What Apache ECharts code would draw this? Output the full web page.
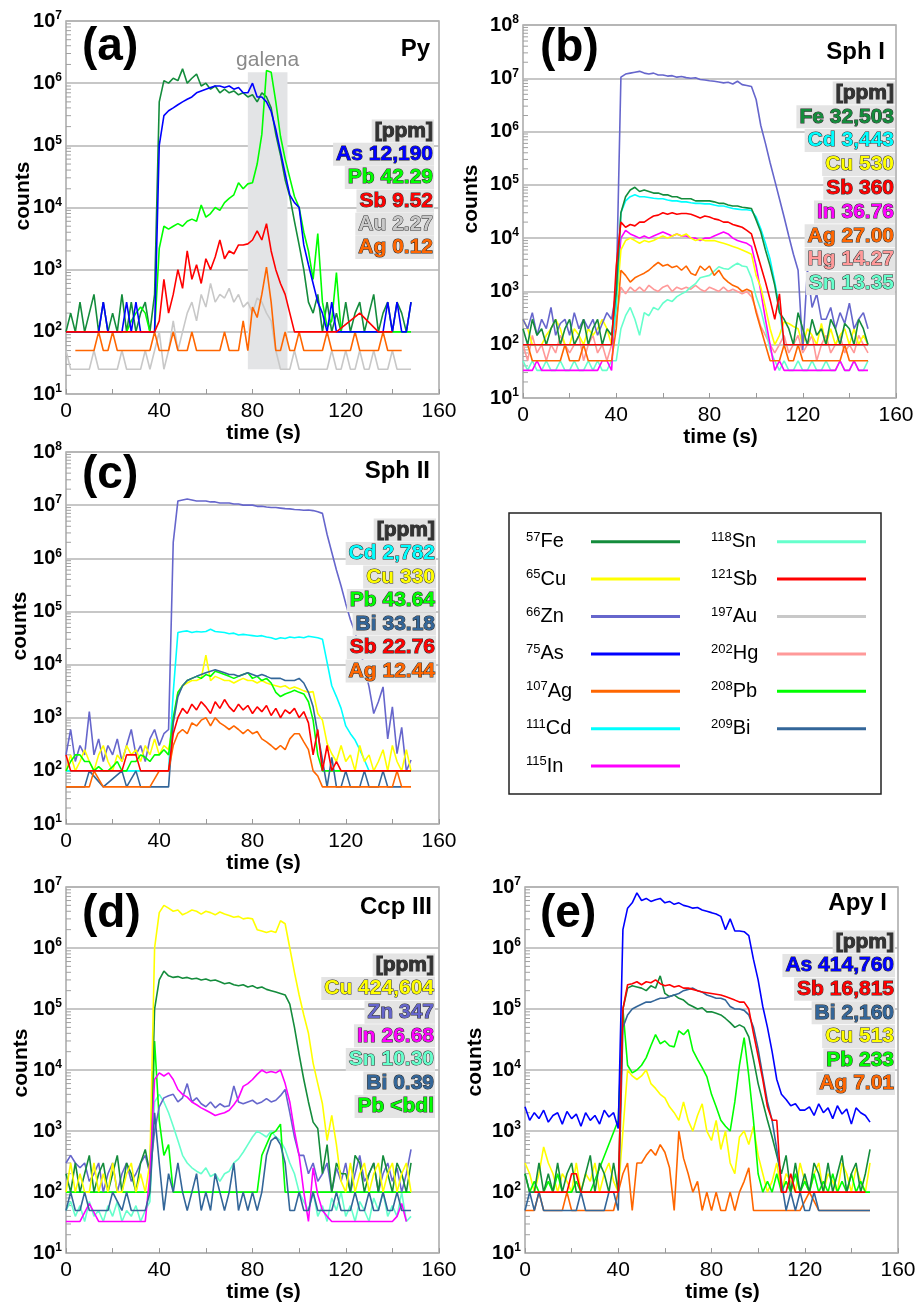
<!DOCTYPE html>
<html><head><meta charset="utf-8">
<script src="https://cdn.jsdelivr.net/npm/echarts@6/dist/echarts.min.js"></script>
<style>html,body{margin:0;padding:0;background:#fff}#c{width:920px;height:1304px}</style>
</head><body><div id="c"></div>
<script>
// ---------- shared time axis (s) ----------
const time = [0,2,4,6,8,10,12,14,16,18,20,22,24,26,28,30,32,34,36,38,40,42,44,46,48,50,52,54,56,58,60,62,64,66,68,70,72,74,76,78,80,82,84,86,88,90,92,94,96,98,100,102,104,106,108,110,112,114,116,118,120,122,124,126,128,130,132,134,136,138,140,142,144,146,148];
const xTickLabels = [0,40,80,120,160];
const minorSteps = [2,3,4,5,6,7,8,9];

// ---------- (a) Py ----------
const aFe = [100,200,100,300,100, 200,400,100,300,100, 200,100,400,100,300, 100,200,300,100,400, 5e5,1.1e6,1e6,1.2e6,1.1e6, 1.7e6,1e6,1.2e6,1.4e6,9e5, 1e6,8e5,9e5,7e5,8e5, 7e5,7.5e5,6.5e5,7e5,6e5, 6.5e5,5e5,7e5,6e5,4e5, 1.5e5,7e4,2.8e4,1.5e4,6e3, 2.5e3,1e3,300,200,400, 100,300,100,200,100, 300,100,200,300,100, 200,400,100,200,300, 100,300,200,100,300];
const aAs = [100,100,100,100,100, 100,100,100,300,100, 100,100,100,300,100, 300,100,100,100,100, 1e5,3e5,3.6e5,4e5,4.5e5, 5e5,5.5e5,6e5,7e5,7.5e5, 8e5,8.5e5,9e5,9e5,8.5e5, 9e5,8e5,8.5e5,7e5,7e5, 1e6,6e5,6e5,5e5,3.5e5, 1.8e5,8e4,3.5e4,1.6e4,1.2e4, 1e4,2.5e3,1.2e3,600,300, 200,100,300,100,100, 100,100,100,100,100, 100,100,100,100,300, 100,300,100,100,300];
const aPb = [100,100,100,100,100, 100,100,100,100,100, 100,100,100,100,150, 200,250,200,100,100, 2.2e3,5e3,4.5e3,5e3,5.5e3, 5e3,6e3,6.5e3,6e3,1.1e4, 7e3,8e3,1e4,9e3,1.2e4, 1.4e4,1.6e4,2.5e4,2e4,2.4e4, 2.5e4,5e4,1.5e5,1.6e6,1.5e6, 5e5,1.4e5,6e4,3e4,1.5e4, 1e4,4e3,2e3,700,3.8e3, 300,120,150,900,100, 100,100,100,100,100, 100,100,100,100,100, 100,100,100,100,100];
const aSb = [100,100,100,100,100, 100,100,100,100,100, 100,100,100,100,100, 100,100,100,100,100, 150,700,200,400,1e3, 500,2e3,700,1.2e3,600, 1.5e3,1e3,1.6e3,3e3,1.5e3, 2e3,1.8e3,2.5e3,2.5e3,2.6e3, 3e3,4.2e3,3e3,5.5e3,2e3, 1e3,600,400,200,100, 100,100,100,100,100, 100,100,100,100,null, null,null,null,200,null, null,null,100,100,100, 100,null,null,null,null];
const aAu = [50,25,25,25,25, 25,50,25,25,25, 25,25,50,25,25, 25,25,50,25,50, 100,25,50,150,50, 100,200,300,150,400, 250,600,300,400,350, 500,300,400,250,300, 200,350,300,200,150, 50,25,25,25,50, 25,25,25,25,25, 25,25,50,25,25, 50,25,25,50,25, 25,50,25,25,25, 50,25,25,25,25];
const aAg = [null,null,50,50,50, 50,50,100,50,50, 100,50,50,50,50, 50,50,50,50,100, 50,50,50,100,50, 50,50,100,50,50, 50,50,50,50,100, 50,50,50,150,50, 250,170,400,1.1e3,300, 50,50,100,50,50, 100,50,50,50,50, 50,100,50,50,50, 50,50,100,50,50, 50,50,50,100,50, 50,50,50,null,null];
const galenaTime = [78, 95];
const galenaCounts = [25, 1.5e6];

// ---------- (b) Sph I ----------
const bZn = [300,200,400,150,300, 200,500,150,250,300, 150,400,200,300,200, 300,150,250,400,300, 1e3,1.05e7,1.2e7,1.25e7,1.3e7, 1.35e7,1.25e7,1.2e7,1.25e7,1.15e7, 1.15e7,1.1e7,1.12e7,1.05e7,1.08e7, 1.03e7,1e7,1.02e7,9.5e6,9.3e6, 9e6,8.8e6,8.5e6,8.2e6,8.4e6, 7.8e6,8.8e6,7.6e6,7.3e6,7e6, 4e6,1.3e6,6e5,2.6e5,1.2e5, 5.5e4,2.5e4,1.1e4,5e3,2.5e3, 80,2.6e3,500,900,300, 300,500,200,400,250, 600,200,300,400,200];
const bFe = [200,100,300,150,200, 100,200,300,100,200, 300,100,150,300,100, 200,300,100,200,150, 1e3,3e4,6e4,8e4,9e4, 7.5e4,8e4,7.5e4,7e4,7e4, 6.5e4,6.5e4,6e4,6e4,5.5e4, 5.5e4,5.5e4,5e4,5e4,5e4, 5e4,4.8e4,4.5e4,4.5e4,4.2e4, 4e4,4e4,3.8e4,3.7e4,3.6e4, 2.2e4,1.3e4,6e3,3e3,1.3e3, 400,300,200,100,400, 200,100,300,150,200, 100,300,200,100,250, 200,100,300,200,100];
const bCd = [100,100,100,100,100, 100,100,100,100,100, 100,100,100,100,100, 100,100,100,100,100, 500,3e4,5e4,6e4,6.5e4, 6e4,6e4,5.8e4,5.6e4,5.5e4, 5.5e4,5.2e4,5e4,5e4,4.8e4, 4.8e4,4.6e4,4.5e4,4.5e4,4.4e4, 4.4e4,4.2e4,4e4,4e4,3.8e4, 3.6e4,3.5e4,3.4e4,3.4e4,3.3e4, 2.5e4,1.5e4,8e3,4e3,1.5e3, 500,100,100,100,100, 100,100,100,100,100, 100,100,100,100,100, 100,100,100,100,100];
const bSb = [100,100,100,100,100, 100,100,100,100,100, 100,100,100,100,100, 100,100,100,100,100, 3e3,2e4,1.6e4,1.8e4,1.7e4, 2e4,2e4,2.3e4,2.6e4,2.7e4, 3e4,2.8e4,3e4,2.8e4,2.9e4, 2.9e4,2.8e4,2.6e4,2.4e4,2.6e4, 2.5e4,2.3e4,2.2e4,2e4,2e4, 1.8e4,1.7e4,1.6e4,1.4e4,1.2e4, 6e3,3e3,1.5e3,700,300, 900,100,100,100,100, 100,100,100,100,100, 100,100,100,100,100, 100,100,100,100,100];
const bIn = [33,33,33,50,33, 33,33,33,33,33, 33,33,33,33,33, 33,33,50,50,33, 1e3,1e4,1.4e4,1.2e4,1.1e4, 1e4,1.1e4,1e4,1.1e4,1.2e4, 1.3e4,1.2e4,1.1e4,1.2e4,1.1e4, 1.1e4,1e4,1e4,9e3,1e4, 1e4,1.1e4,1.2e4,1.3e4,1.2e4, 1e4,9e3,8.5e3,8e3,7e3, 3e3,1e3,300,100,33, 50,33,33,33,33, 33,33,33,33,33, 33,33,33,50,33, 33,50,33,33,33];
const bCu = [300,200,100,100,100, 150,200,300,200,100, 100,200,150,100,200, 150,200,300,200,100, 500,6e3,9e3,1e4,9e3, 8e3,9e3,8.5e3,9e3,1e4, 1.1e4,1e4,1.1e4,1.2e4,1.1e4, 1.2e4,1e4,9e3,9.5e3,9e3, 9e3,9e3,8.5e3,8e3,7.5e3, 7e3,6.5e3,6e3,5.5e3,5e3, 2e3,1.2e3,500,200,100, 150,270,250,220,200, 100,200,150,100,250, 100,200,100,150,200, 100,200,100,150,100];
const bAg = [100,100,50,50,50, 50,50,50,50,100, 50,50,50,100,50, 50,50,50,50,50, 200,2.5e3,2e3,1.5e3,1.8e3, 2e3,2.2e3,2.5e3,3e3,3.5e3, 3e3,3.2e3,2.8e3,3e3,2.5e3, 3e3,2.2e3,2e3,3e3,2.5e3, 3e3,2e3,2.5e3,1.8e3,1.5e3, 1.3e3,1.2e3,1e3,1.1e3,1e3, 400,200,100,50,50, 50,100,50,50,100, 50,50,50,50,50, 50,50,50,50,100, 50,50,50,50,50];
const bHg = [100,50,150,70,100, 50,100,70,150,100, 70,100,150,50,100, 150,70,100,50,100, 300,1.2e3,900,1.2e3,1e3, 1.2e3,1e3,1.3e3,1.1e3,1e3, 1.2e3,1.3e3,1e3,1.2e3,1.1e3, 1.2e3,1.1e3,1.3e3,1.1e3,1e3, 1.2e3,1.1e3,1e3,1.2e3,1e3, 1.1e3,1e3,900,1e3,800, 450,220,150,100,70, 100,150,70,100,150, 70,100,150,50,100, 150,70,100,150,70, 100,70,150,100,70];
const bSn = [50,33,50,33,33, 50,33,33,50,33, 33,50,33,33,50, 33,50,33,33,50, 50,200,350,500,300, 150,400,350,500,450, 600,700,650,800,900, 1e3,1.2e3,1.4e3,1.8e3,1.9e3, 2e3,2.4e3,2.9e3,2.7e3,2.6e3, 3e3,3.4e3,3e3,2.9e3,1.8e3, 800,450,200,80,50, 33,50,33,33,50, 33,33,50,33,33, 50,33,33,50,33, 33,50,33,33,50];

// ---------- (c) Sph II ----------
const cZn = [200,600,150,300,200, 1.3e3,200,400,150,300, 200,400,150,300,600, 200,300,150,400,600, 300,500,600,2e6,1.2e7, 1.25e7,1.3e7,1.25e7,1.2e7,1.2e7, 1.2e7,1.15e7,1.15e7,1.1e7,1.1e7, 1.1e7,1.05e7,1.05e7,1e7,1e7, 1e7,9.5e6,9.5e6,9.2e6,9e6, 9e6,8.8e6,8.6e6,8.5e6,8.3e6, 8.2e6,8e6,8.1e6,7.9e6,7.5e6, 7e6,2.8e6,1.3e6,6e5,3e5, 1.4e5,7e4,4e4,2e4,9e3, 3.8e3,1.2e3,2e3,3.8e3,400, 1.6e3,210,660,100,160];
const cCd = [100,100,100,100,100, 100,100,100,100,100, 100,100,100,100,100, 100,100,100,100,100, 100,100,100,3e3,4e4, 4.2e4,4.3e4,4e4,4.2e4,4.1e4, 4.2e4,4.6e4,4.2e4,4.1e4,4e4, 3.8e4,3.9e4,3.6e4,3.7e4,3.6e4, 3.5e4,3.4e4,3.5e4,3.3e4,3.2e4, 3e4,3.2e4,3.1e4,3.3e4,3.2e4, 3.3e4,3.2e4,3.4e4,3.3e4,3.2e4, 3e4,1.1e4,4e3,2.5e3,1.5e3, 700,500,380,250,160, 100,100,100,100,100, 100,100,100,100,100];
const cPb = [100,150,200,200,150, 150,100,120,100,100, 120,150,100,100,150, 150,200,180,150,200, 200,250,200,1e3,3e3, 4e3,5e3,5.5e3,6e3,5.5e3, 6.5e3,6e3,7.5e3,7e3,6.5e3, 6e3,5.5e3,6e3,6.5e3,7e3, 5.5e3,6e3,5e3,5.5e3,4.5e3, 3e3,2.5e3,2.8e3,3e3,3.3e3, 3e3,2.8e3,2e3,900,200, 100,100,100,100,100, 100,100,100,100,100, 100,100,100,100,100, 100,100,100,100,100];
const cBi = [50,50,50,50,50, 100,null,null,50,null, null,null,100,50,null, 100,50,50,50,50, 50,50,50,800,2.5e3, 4e3,5e3,5.5e3,6e3,6.5e3, 7e3,7.5e3,8e3,7.5e3,7e3, 6.5e3,6.5e3,6e3,6.5e3,7e3, 6.5e3,6e3,6.5e3,6e3,5.5e3, 5.5e3,5.5e3,5e3,5e3,5e3, 5.5e3,4.5e3,3e3,1.6e3,500, 160,50,180,50,50, 100,50,50,50,100, 50,50,50,100,50, 50,50,50,null,null];
const cCu = [100,200,100,150,250, 150,100,200,300,150, 100,200,150,300,200, 250,150,300,200,400, 200,300,250,800,3e3, 4e3,4.5e3,5e3,5e3,5.5e3, 1.5e4,5e3,6e3,5.5e3,5e3, 5e3,4.5e3,5e3,5.5e3,5e3, 5e3,4.5e3,5e3,4.5e3,4.2e3, 4e3,3.8e3,4e3,3.5e3,3.8e3, 3.5e3,3.2e3,3e3,3.1e3,1.2e3, 900,330,210,150,300, 150,200,100,300,150, 200,100,150,250,100, 300,150,100,250,100];
const cSb = [200,100,100,100,100, 100,100,100,100,100, 100,100,100,200,200, 200,100,100,100,100, 100,100,100,500,1e3, 1.5e3,1.2e3,1.8e3,1.4e3,2e3, 1.6e3,1.2e3,2e3,1.5e3,2.2e3, 1.6e3,1.3e3,1.8e3,1.4e3,1.7e3, 1.2e3,1.6e3,1.3e3,1.7e3,1.1e3, 1.5e3,1e3,1.4e3,1.2e3,1.5e3, 1e3,1.3e3,800,200,600, 100,300,100,150,100, 100,100,100,100,100, 100,100,100,100,100, 100,100,100,100,100];
const cAg = [50,50,50,50,50, 50,100,null,50,50, 50,50,50,50,50, 50,50,50,50,null, 100,100,100,300,500, 600,500,800,700,900, 1e3,700,1e3,800,700, 600,700,600,500,600, 500,550,400,350,300, 250,300,250,400,500, 500,350,250,100,80, 50,50,50,50,50, 50,50,50,50,50, 50,50,50,50,50, 50,100,50,50,50];

// ---------- (d) Ccp III ----------
const dCu = [100,300,100,200,100, 100,300,100,200,100, 300,100,100,200,300, 100,200,100,300,1e6, 3.8e6,5e6,4.5e6,4e6,4.2e6, 3.5e6,3.8e6,4.2e6,4e6,3.6e6, 4e6,3.8e6,3.5e6,3.9e6,3.6e6, 3.4e6,3.2e6,3.3e6,3e6,3.1e6, 3e6,2e6,1.9e6,1.8e6,1.9e6, 1.8e6,2.8e6,2.5e6,1e6,4e5, 1.7e5,8e4,4e4,1.3e4,6e3, 2.8e3,700,1.8e3,600,150, 100,300,100,200,300, 100,200,300,100,200, 300,100,200,300,100];
const dFe = [200,100,300,100,200, 400,100,200,300,100, 200,400,100,300,200, 100,300,500,200,1e5, 3e5,4.2e5,3.5e5,3.3e5,3.4e5, 3.2e5,3.3e5,3.1e5,3.2e5,3e5, 3.1e5,2.9e5,3e5,2.8e5,2.6e5, 2.7e5,2.5e5,2.4e5,2.5e5,2.3e5, 2.4e5,2.2e5,2.3e5,2.1e5,2e5, 1.9e5,1.8e5,1.7e5,1.2e5,5e4, 1.8e4,7e3,3e3,1.4e3,1.1e3, 200,600,100,300,200, 200,100,400,300,100, 200,300,100,400,200, 100,300,200,100,300];
const dZn = [300,400,300,250,300, 150,200,300,100,200, 300,100,200,300,150, 200,300,400,200,1e3, 2.5e3,3.5e3,3.8e3,4e3,3e3, 3.5e3,6e3,3e3,3.5e3,2.8e3, 2.5e3,3e3,2.4e3,2.8e3,2.5e3, 2.6e3,5.5e3,3e3,2.8e3,3e3, 3.2e3,2.8e3,3e3,3.4e3,3e3, 3.2e3,3.8e3,4.8e3,2e3,800, 400,400,200,300,150, 200,300,100,250,150, 300,100,200,400,150, 200,300,100,200,300, 150,250,100,200,500];
const dIn = [33,33,33,33,null, 65,null,33,33,33, 33,33,33,33,33, 33,33,33,200,7e3, 9e3,8e3,9e3,7e3,4.8e3, 4e3,3.6e3,3e3,2.7e3,2.4e3, 2.2e3,2e3,1.8e3,1.9e3,2e3, 2.2e3,2.7e3,3.5e3,5.4e3,6e3, 7e3,8.5e3,1e4,9e3,9.5e3, 9e3,1e4,6e3,3e3,1e3, 400,100,33,250,90, 50,40,33,33,33, 33,33,33,33,33, 33,33,33,33,33, 33,40,65,33,null];
const dSn = [50,70,40,60,33, 70,40,50,33,60, 40,70,33,50,40, 60,33,50,70,3e3, 4e3,3e3,2e3,1.2e3,700, 400,300,250,220,200, 250,180,200,150,200, 220,300,350,450,600, 800,1e3,900,800,1e3, 800,700,500,300,200, 100,70,50,100,40, 60,33,80,50,100, 40,60,33,70,50, 33,80,50,100,40, 60,40,100,33,40];
const dBi = [50,100,50,50,100, 50,50,50,50,50, 100,null,50,100,50, 50,50,50,100,2e3, 300,50,200,100,300, 100,50,100,200,50, 100,50,200,100,50, 100,300,50,100,50, 100,50,100,400,700, 800,600,300,50,50, 100,50,50,100,50, 50,50,50,100,50, 50,50,100,50,50, 100,50,50,100,50, 50,100,50,50,50];
const dPb = [100,100,100,100,100, 100,100,100,100,100, 100,100,100,100,100, 100,100,100,100,3e4, 1.5e3,400,600,100,100, 100,100,100,100,100, 100,100,100,100,100, 100,100,100,100,100, 100,100,400,600,900, 1e3,1.3e3,100,100,100, 100,100,100,100,100, 100,100,100,100,100, 100,100,100,100,100, 100,100,100,100,100, 100,100,100,100,100];

// ---------- (e) Apy I ----------
const eAs = [2.5e3,1.5e3,2e3,1.6e3,2.2e3, 1.4e3,1.8e3,2e3,1.3e3,2.1e3, 1.6e3,1.9e3,1.2e3,2e3,1.5e3, 1.8e3,1.3e3,2.2e3,1.7e3,2e3, 1.1e3,2e6,4.5e6,5.5e6,8e6, 6e6,6.5e6,5.8e6,6.2e6,6.5e6, 5.5e6,5.8e6,5.2e6,5.5e6,5e6, 4.8e6,4.5e6,4.6e6,4.2e6,4e6, 3.8e6,3.6e6,3.3e6,2e6,3e6, 1.9e6,1.9e6,1.85e6,1.6e6,6.5e5, 3e5,1.1e5,5e4,2e4,7e3, 4e3,3.3e3,2.6e3,2.8e3,2.2e3, 2.2e3,2.5e3,1.8e3,2.8e3,2e3, 2.4e3,1.6e3,2.6e3,1.9e3,2.3e3, 1.3e3,2.4e3,2e3,1.8e3,1.4e3];
const eSb = [null,null,100,100,100, 100,100,100,100,100, 200,200,100,100,100, 100,100,100,100,100, 100,1e5,2.5e5,2.6e5,2.8e5, 2.5e5,2.8e5,2.7e5,3e5,2.6e5, 2.4e5,2.5e5,2.3e5,2.4e5,2.2e5, 2.2e5,2.1e5,2e5,1.9e5,1.85e5, 1.8e5,1.75e5,1.7e5,1.6e5,1.5e5, 1.4e5,1.3e5,1.3e5,1e5,4e4, 1.7e4,7e3,2.5e3,1.5e3,1.5e3, 100,100,200,100,100, 100,100,100,100,100, 100,100,100,100,100, 100,100,100,100,null];
const eBi = [50,100,50,100,50, 50,50,50,50,50, 50,50,100,50,50, 50,50,50,100,100, 50,5e4,8e4,1e5,1.1e5, 1.2e5,1.3e5,1.3e5,1.4e5,1.5e5, 1.5e5,1.6e5,1.7e5,1.8e5,2e5, 2.1e5,2.2e5,2e5,1.9e5,1.7e5, 1.6e5,1.5e5,1.5e5,1.4e5,1.1e5, 1e5,1e5,9.5e4,8e4,5e4, 2.2e4,8e3,3e3,1.5e3,500, 150,50,100,50,100, 50,50,100,50,50, 50,50,50,50,50, 50,50,50,50,50];
const eFe = [200,100,100,300,100, 200,100,300,100,200, 300,100,100,200,400, 100,300,200,100,300, 100,1e5,2.2e5,2.4e5,2.3e5, 2.2e5,2e5,2.4e5,2.2e5,3.5e5, 1.8e5,1.6e5,1.7e5,1.5e5,1.4e5, 1.2e5,1.1e5,1e5,1.05e5,9e4, 9e4,8.5e4,8e4,7e4,6e4, 5e4,5.5e4,5e4,3.5e4,1.5e4, 6e3,3e3,1.5e3,800,400, 200,400,100,300,100, 200,100,300,200,100, 300,100,200,400,100, 200,300,100,200,500];
const ePb = [200,100,150,100,100, 150,100,200,100,100, 100,150,100,100,100, null,null,null,null,null, 1.5e3,1e5,1.2e4,9e3,1e4, 1.2e4,1.6e4,2.5e4,3.8e4,2.7e4, 3e4,2.5e4,2.4e4,4.4e4,3.8e4, 4.6e4,2.1e4,1.5e4,1.1e4,7.8e3, 4e3,2.5e3,1.5e3,1.2e3,1e3, 3e3,1.2e4,3.4e4,8e3,1.5e3, 200,100,150,100,200, 100,150,100,200,100, 150,100,200,100,150, 100,200,100,150,100, 200,100,150,100,100];
const eCu = [300,200,100,200,550, 300,200,100,200,150, 100,300,100,200,150, 300,100,200,300,150, 100,1e3,1e4,8e3,7e3, 8e3,1e4,6e3,5e3,4e3, 3.5e3,2.5e3,2e3,1.5e3,3e3, 1.5e3,1e3,1.8e3,2.8e3,1e3, 700,1.5e3,500,1e3,300, 200,800,1e3,600,1.2e3, 400,200,100,150,300, 100,200,150,100,300, 150,100,200,300,100, 200,150,100,300,200, 100,250,150,100,300];
const eAg = [50,50,50,100,50, 50,50,50,50,100, 50,50,50,50,50, 50,50,50,50,50, 100,200,300,50,300, 300,400,500,400,600, 450,250,50,1e3,360, 200,100,150,50,100, 50,100,50,50,100, 50,100,150,250,50, 50,50,50,50,50, 50,50,50,50,50, null,100,null,50,50, 50,50,50,50,50, 50,50,50,50,50];

// ---------- annotation texts ----------
const ppmA = ['[ppm]','As 12,190','Pb 42.29','Sb 9.52','Au 2.27','Ag 0.12'];
const ppmB = ['[ppm]','Fe 32,503','Cd 3,443','Cu 530','Sb 360','In 36.76','Ag 27.00','Hg 14.27','Sn 13.35'];
const ppmC = ['[ppm]','Cd 2,782','Cu 330','Pb 43.64','Bi 33.18','Sb 22.76','Ag 12.44'];
const ppmD = ['[ppm]','Cu 424,604','Zn 347','In 26.68','Sn 10.30','Bi 0.39','Pb <bdl'];
const ppmE = ['[ppm]','As 414,760','Sb 16,815','Bi 2,160','Cu 513','Pb 233','Ag 7.01'];
const legendCol1 = ['Fe','Cu','Zn','As','Ag','Cd','In'];
const legendCol2 = ['Sn','Sb','Au','Hg','Pb','Bi'];
const massNumbers = {Fe:57,Cu:65,Zn:66,As:75,Ag:107,Cd:111,In:115,Sn:118,Sb:121,Au:197,Hg:202,Pb:208,Bi:209};

const colors = {Fe:'#148C3C',Cu:'#FFFF00',Zn:'#6666CC',As:'#0000FF',Ag:'#FF6600',Cd:'#00FFFF',In:'#FF00FF',Sn:'#66FFCC',Sb:'#FF0000',Au:'#C8C8C8',Hg:'#FF9999',Pb:'#00FF00',Bi:'#336699'};

// ---------- layout ----------
const FONT = '"Liberation Sans", Arial, Helvetica, sans-serif';
const panels = [
  {letter:'(a)', mineral:'Py', yMax:1e7, grid:{left:66,top:21,width:373,height:373}, nameGap:26,
   series:[['Au',aAu],['Ag',aAg],['Fe',aFe],['Pb',aPb],['As',aAs],['Sb',aSb]],
   ppm:ppmA, ppmPos:[434,131,23.3], letterPos:[82,47], minPos:[430,49], countsPos:[23,196]},
  {letter:'(b)', mineral:'Sph I', yMax:1e8, grid:{left:523,top:25,width:373,height:373}, nameGap:26,
   series:[['Hg',bHg],['Sn',bSn],['In',bIn],['Ag',bAg],['Cu',bCu],['Cd',bCd],['Zn',bZn],['Fe',bFe],['Sb',bSb]],
   ppm:ppmB, ppmPos:[895,93,23.8], letterPos:[540,48], minPos:[885,52], countsPos:[471,199]},
  {letter:'(c)', mineral:'Sph II', yMax:1e8, grid:{left:66,top:452,width:373,height:372}, nameGap:26,
   series:[['Zn',cZn],['Cd',cCd],['Cu',cCu],['Pb',cPb],['Bi',cBi],['Ag',cAg],['Sb',cSb]],
   ppm:ppmC, ppmPos:[436,530,23.5], letterPos:[82,475], minPos:[430,471], countsPos:[20,626]},
  {letter:'(d)', mineral:'Ccp III', yMax:1e7, grid:{left:66,top:887,width:373,height:373}, nameGap:21,
   series:[['Sn',dSn],['Pb',dPb],['Zn',dZn],['Fe',dFe],['Cu',dCu],['In',dIn],['Bi',dBi]],
   ppm:ppmD, ppmPos:[435,965,23.6], letterPos:[82,914], minPos:[432,907], countsPos:[21,1063]},
  {letter:'(e)', mineral:'Apy I', yMax:1e7, grid:{left:525,top:887,width:373,height:372}, nameGap:21,
   series:[['Ag',eAg],['Cu',eCu],['Pb',ePb],['Fe',eFe],['Bi',eBi],['Sb',eSb],['As',eAs]],
   ppm:ppmE, ppmPos:[895,942,23.6], letterPos:[540,914], minPos:[887,903], countsPos:[475,1062]}
];

panels.forEach(p => p.series.forEach(s => { if (s[1].length !== time.length) throw new Error('length ' + p.letter + s[0] + ' ' + s[1].length); }));

const grids = [], xAxes = [], yAxes = [], series = [], graphics = [];
panels.forEach((p, i) => {
  grids.push(Object.assign({show:true, borderColor:'#a8a8a8', borderWidth:1.5, backgroundColor:'transparent'}, p.grid));
  xAxes.push({type:'value', gridIndex:i, min:0, max:160, interval:20,
    axisLine:{show:false}, splitLine:{show:false},
    axisTick:{show:true, inside:true, length:5, lineStyle:{color:'#999', width:1}},
    axisLabel:{color:'#000', fontSize:21, fontFamily:FONT, margin:7,
      formatter: v => xTickLabels.indexOf(v) >= 0 ? String(v) : ''},
    name:'time (s)', nameLocation:'middle', nameGap:p.nameGap,
    nameTextStyle:{color:'#000', fontSize:21, fontWeight:'bold', fontFamily:FONT, padding:[0,0,0,22]}});
  yAxes.push({type:'log', logBase:10, gridIndex:i, min:10, max:p.yMax,
    axisLine:{show:false}, axisTick:{show:false},
    splitLine:{show:true, lineStyle:{color:'#b4b4b4', width:1.5}},
    axisLabel:{margin:4, formatter: v => '{b|10}{s|' + Math.round(Math.log10(v)) + '}',
      rich:{b:{fontSize:20, fontWeight:'bold', color:'#000', fontFamily:FONT, lineHeight:22},
            s:{fontSize:12, fontWeight:'bold', color:'#000', fontFamily:FONT, lineHeight:11, verticalAlign:'top'}}}});
  // minor log ticks on the left edge
  const minor = [];
  for (let d = 10; d < p.yMax; d *= 10) minorSteps.forEach(m => minor.push([0, m * d]));
  series.push({type:'custom', xAxisIndex:i, yAxisIndex:i, silent:true, z:1, clip:false,
    encode:{x:0, y:1}, data:minor,
    renderItem:(params, api) => { const c = api.coord([0, api.value(1)]);
      return {type:'line', shape:{x1:c[0], y1:c[1], x2:c[0]+5, y2:c[1]}, style:{stroke:'#a0a0a0', lineWidth:1}}; }});
  if (i === 0) {
    series.push({type:'line', xAxisIndex:0, yAxisIndex:0, data:[], z:1, silent:true,
      markArea:{silent:true, itemStyle:{color:'#e3e4e6'},
        label:{show:true, position:'top', distance:2, formatter:'galena', color:'#8a8a8a', fontSize:21, fontFamily:FONT},
        data:[[{xAxis:galenaTime[0], yAxis:galenaCounts[0]}, {xAxis:galenaTime[1], yAxis:galenaCounts[1]}]]}});
  }
  p.series.forEach(([name, vals]) => {
    series.push({type:'line', name, xAxisIndex:i, yAxisIndex:i, z:3, silent:true,
      data: time.map((t, k) => [t, vals[k]]), showSymbol:false, symbol:'none', connectNulls:true,
      lineStyle:{width:1.6, color:colors[name]}, itemStyle:{color:colors[name]}, emphasis:{disabled:true}});
  });
  // panel texts
  graphics.push({type:'text', x:p.letterPos[0], y:p.letterPos[1], z:100, silent:true,
    style:{text:p.letter, font:'bold 46px ' + FONT, fill:'#000', textAlign:'left', textVerticalAlign:'middle'}});
  graphics.push({type:'text', x:p.minPos[0], y:p.minPos[1], z:100, silent:true,
    style:{text:p.mineral, font:'bold 24px ' + FONT, fill:'#000', textAlign:'right', textVerticalAlign:'middle'}});
  graphics.push({type:'text', x:p.countsPos[0], y:p.countsPos[1], rotation:Math.PI/2, z:100, silent:true,
    style:{text:'counts', font:'bold 21px ' + FONT, fill:'#000', textAlign:'center', textVerticalAlign:'middle'}});
  p.ppm.forEach((txt, k) => {
    const el = txt.split(' ')[0];
    const fill = colors[el] || '#333';
    graphics.push({type:'text', x:p.ppmPos[0], y:p.ppmPos[1] + k * p.ppmPos[2], z:100, silent:true,
      style:{text:txt, font:'bold 21px ' + FONT, fill:fill, stroke:'#2a2a2a', lineWidth:1,
        textAlign:'right', textVerticalAlign:'middle', backgroundColor:'#e4e4e4', padding:[1,1,0,3], lineHeight:22}});
  });
});

// legend frame
graphics.push({type:'rect', z:100, silent:true, shape:{x:509, y:513, width:372, height:281},
  style:{fill:'none', stroke:'#222', lineWidth:1.5}});

const legendText = (names, left) => ({show:true, orient:'vertical', left, top:530.7, padding:0, itemGap:15.4,
  selectedMode:false, data:names, icon:'rect', itemWidth:1, itemHeight:1, itemStyle:{opacity:0},
  formatter: n => '{s|' + massNumbers[n] + '}{e|' + n + '}',
  textStyle:{color:'#000', fontFamily:FONT, fontSize:20, lineHeight:22,
    rich:{s:{fontSize:13, fontFamily:FONT, color:'#000', lineHeight:11, verticalAlign:'top'},
          e:{fontSize:20, fontFamily:FONT, color:'#000', lineHeight:22}}}});
const legendIcons = (names, left) => ({show:true, orient:'vertical', left, top:530.7, padding:0, itemGap:15.4,
  selectedMode:false, data:names, icon:'rect', itemWidth:89, itemHeight:3,
  formatter: () => ' ', textStyle:{fontSize:20, lineHeight:22, fontFamily:FONT}});

const chart = echarts.init(document.getElementById('c'), null, {renderer:'canvas'});
chart.setOption({
  animation:false,
  backgroundColor:'#fff',
  textStyle:{fontFamily:FONT},
  grid:grids, xAxis:xAxes, yAxis:yAxes, series,
  legend:[legendText(legendCol1, 520), legendIcons(legendCol1, 591), legendText(legendCol2, 705), legendIcons(legendCol2, 777)],
  graphic:{elements:graphics}
});
</script>
</body></html>
